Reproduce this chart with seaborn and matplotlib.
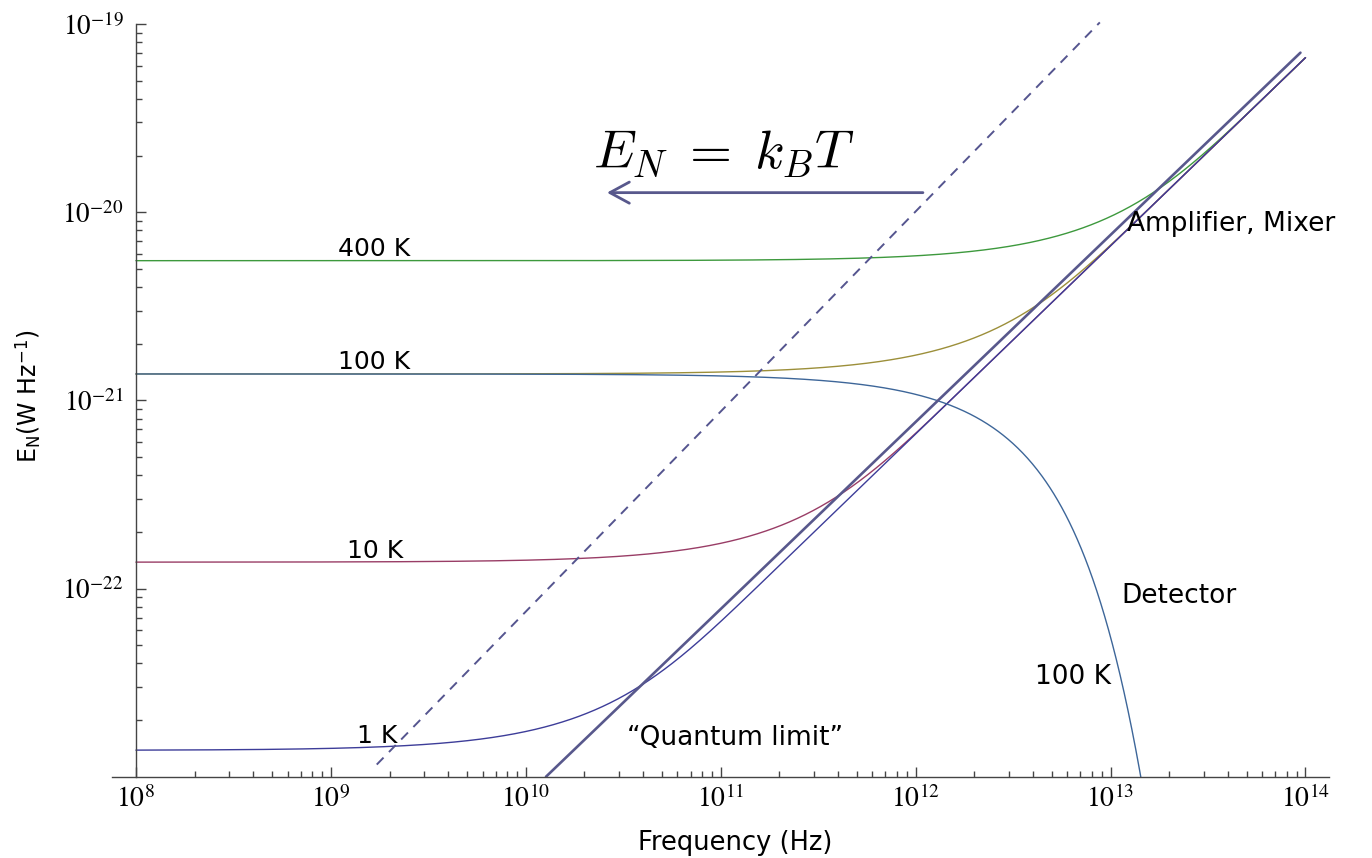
import numpy as np
import pandas as pd
import matplotlib
matplotlib.use("Agg")
import matplotlib.pyplot as plt
import seaborn as sns
from matplotlib.ticker import FixedLocator, FixedFormatter, NullFormatter

# Physical constants (SI)
H_PLANCK = 6.626e-34
K_BOLTZ = 1.381e-23

# Amplifier / mixer noise temperatures and their styling
amp_temps = [400, 100, 10, 1]
amp_labels = ["400 K", "100 K", "10 K", "1 K"]
amp_colors = ["#3d993d", "#9c8f3a", "#993d66", "#3d3d99"]

# Incoherent detector temperature
det_temp = 100
det_color = "#3d6699"

# Frequency span of the noise curves (Hz)
freq_span = [1e8, 1e14]

# "Quantum limit" reference line (Hz, W/Hz)
ql_nu = [1.27e10, 9.42e13]
ql_E = [1.0e-23, 7.04e-20]

# h*nu = k_B*T boundary (dashed)
kt_nu = [1.72e9, 8.81e12]
kt_E = [1.16e-23, 1.02e-19]

# Decade ticks
xtick_exps = [8, 9, 10, 11, 12, 13, 14]
ytick_exps = [-22, -21, -20, -19]

sns.set_theme(style="ticks")
plt.rcParams["font.family"] = ["DejaVu Sans"]
plt.rcParams["mathtext.fontset"] = "stix"
plt.rcParams["text.color"] = "black"
plt.rcParams["xtick.labelcolor"] = "black"
plt.rcParams["ytick.labelcolor"] = "black"

fig = plt.figure(figsize=(13.72, 8.58), dpi=100)
ax = fig.add_axes([112 / 1372, (858 - 776.7) / 858, (1329 - 112) / 1372, (776.7 - 24) / 858])

nu = np.logspace(np.log10(freq_span[0]), np.log10(freq_span[1]), 1200)

frames = []
for T, lab in zip(amp_temps, amp_labels):
    x = H_PLANCK * nu / (K_BOLTZ * T)
    E = H_PLANCK * nu / (1.0 - np.exp(-x))
    frames.append(pd.DataFrame({"nu": nu, "E": E, "curve": f"amp {lab}"}))
amp_df = pd.concat(frames, ignore_index=True)

nu_det = nu[nu <= 1.6e13]
xd = H_PLANCK * nu_det / (K_BOLTZ * det_temp)
det_df = pd.DataFrame({"nu": nu_det, "E": H_PLANCK * nu_det / np.expm1(xd), "curve": "detector"})

palette = {f"amp {lab}": c for lab, c in zip(amp_labels, amp_colors)}
palette["detector"] = det_color

sns.lineplot(data=pd.concat([amp_df, det_df], ignore_index=True), x="nu", y="E",
             hue="curve", palette=palette, linewidth=1.0, legend=False, ax=ax)

# Quantum limit line and k_B T boundary
sns.lineplot(x=ql_nu, y=ql_E, color="#58588c", linewidth=1.9, ax=ax)
ax.plot(kt_nu, kt_E, color="#55558f", linewidth=1.4, dashes=(5, 4), clip_on=False)

ax.set_xscale("log")
ax.set_yscale("log")
ax.set_xlim(7.54e7, 1.32e14)
ax.set_ylim(1e-23, 1e-19)

# Axes in the crossing style: y axis sits at 1e8
ax.spines["left"].set_position(("data", 1e8))
for s in ["top", "right"]:
    ax.spines[s].set_visible(False)
for s in ["left", "bottom"]:
    ax.spines[s].set_color("#444444")
    ax.spines[s].set_linewidth(1.0)

ax.xaxis.set_major_locator(FixedLocator([10.0 ** e for e in xtick_exps]))
ax.xaxis.set_major_formatter(FixedFormatter([rf"$10^{{{e}}}$" for e in xtick_exps]))
ax.xaxis.set_minor_locator(FixedLocator([m * 10.0 ** e for e in xtick_exps[:-1] for m in range(2, 10)]))
ax.xaxis.set_minor_formatter(NullFormatter())

ax.yaxis.set_major_locator(FixedLocator([10.0 ** e for e in ytick_exps]))
ax.yaxis.set_major_formatter(FixedFormatter([rf"$10^{{{e}}}$" for e in ytick_exps]))
ax.yaxis.set_minor_locator(FixedLocator([m * 10.0 ** e for e in [-23, -22, -21, -20] for m in range(2, 10)]))
ax.yaxis.set_minor_formatter(NullFormatter())

ax.tick_params(which="both", direction="in", color="#444444", width=1.0)
ax.tick_params(which="major", length=7)
ax.tick_params(which="minor", length=4)
ax.tick_params(axis="x", which="major", labelsize=20, pad=6)
ax.tick_params(axis="y", which="major", labelsize=19.5, pad=9)
ax.set_xlabel("")
ax.set_ylabel("")

# Curve annotations
lab_kw = dict(fontsize=18, color="black", va="baseline", ha="left")
ax.text(1.09e9, 5.85e-21, "400 K", **lab_kw)
ax.text(1.09e9, 1.47e-21, "100 K", **lab_kw)
ax.text(1.21e9, 1.45e-22, "10 K", **lab_kw)
ax.text(1.36e9, 1.51e-23, "1 K", **lab_kw)

side_kw = dict(fontsize=19, color="black", va="center", ha="left")
ax.text(1.22e13, 8.65e-21, "Amplifier, Mixer", **side_kw)
ax.text(1.14e13, 9.1e-23, "Detector", **side_kw)
ax.text(4.08e12, 3.37e-23, "100 K", **side_kw)
ax.text(3.30e10, 1.6e-23, "\u201cQuantum limit\u201d", **side_kw)

# Thermal regime marker
ax.text(1.04e11, 1.71e-20, r"$E_N\;=\;k_BT$", fontsize=39, math_fontfamily="cm",
        ha="center", va="baseline", color="black")
ax.annotate("", xy=(2.61e10, 1.27e-20), xytext=(1.09e12, 1.27e-20),
            arrowprops=dict(arrowstyle="->,head_length=0.7,head_width=0.38",
                            color="#58588c", lw=2.0, mutation_scale=20,
                            shrinkA=0, shrinkB=0))

fig.text(735 / 1372, 1 - 843 / 858, "Frequency (Hz)", fontsize=18.5, ha="center", va="center")
fig.text(28 / 1372, 1 - 396 / 858, r"E$_\mathregular{N}$(W Hz$^\mathregular{-1}$)",
         fontsize=17, rotation=90, ha="center", va="center")

fig.savefig("out.png", dpi=100)
